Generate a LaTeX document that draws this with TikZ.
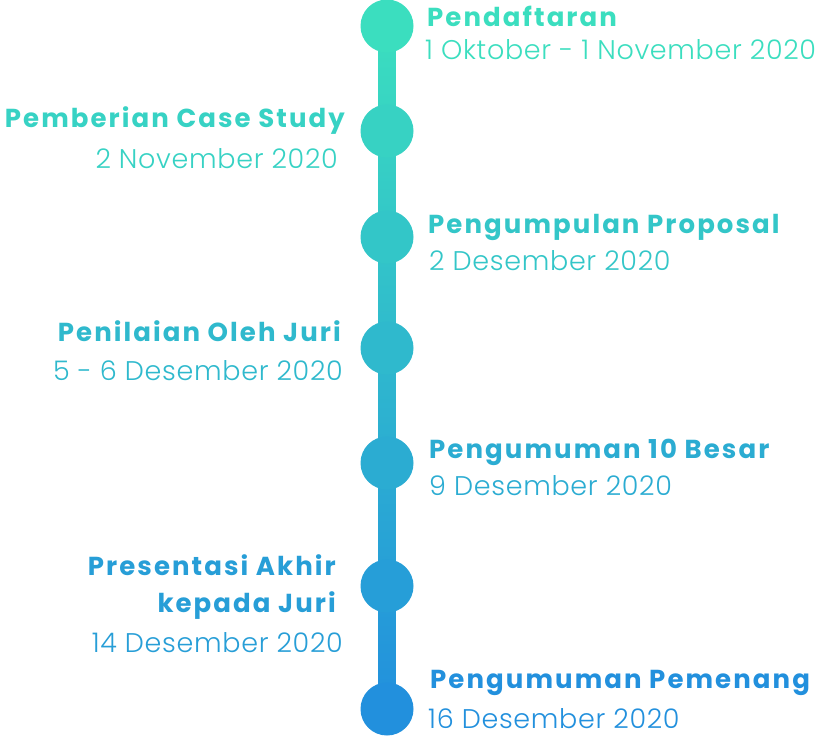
\documentclass[tikz,border=0pt]{standalone}
\usepackage{fontspec}
\setmainfont{Poppins}
\newfontfamily\titlefont{Poppins}[UprightFont={* Bold}, LetterSpace=8]
\newfontfamily\datefont{Poppins}[UprightFont={* Light}, LetterSpace=2.5]
\usetikzlibrary{calc, backgrounds}

\definecolor{topc}{RGB}{59,222,191}
\definecolor{botc}{RGB}{34,144,221}
\colorlet{colA}{botc!0!topc}
\colorlet{colB}{botc!15!topc}
\colorlet{colC}{botc!31!topc}
\colorlet{colD}{botc!47!topc}
\colorlet{colE}{botc!64!topc}
\colorlet{colF}{botc!82!topc}
\colorlet{colG}{botc!100!topc}

\begin{document}
\begin{tikzpicture}[x=1pt, y=-1pt,
    dot/.style={circle, minimum size=53pt, inner sep=0pt},
    title/.style={inner sep=0pt, font=\titlefont\fontsize{26}{37}\selectfont},
    when/.style={inner sep=0pt, font=\datefont\fontsize{27}{32}\selectfont}]

    \useasboundingbox (0,0) rectangle (819,736);

    % the dots on the time line
    \node [dot, fill=colA] (reg) at (387,26) {};
    \node [dot, fill=colB] (case) at (387,131) {};
    \node [dot, fill=colC] (prop) at (387,237) {};
    \node [dot, fill=colD] (jury) at (387,348) {};
    \node [dot, fill=colE] (ten) at (387,463) {};
    \node [dot, fill=colF] (pres) at (387,586) {};
    \node [dot, fill=colG] (win) at (387,709) {};

    \begin{pgfonlayer}{background}
        \fill [white] (0,0) rectangle (819,736);
        \shade [top color=colA, bottom color=colB] ($(reg.center)+(-8.5,0)$) rectangle ($(case.center)+(8.5,0)$);
        \shade [top color=colB, bottom color=colC] ($(case.center)+(-8.5,0)$) rectangle ($(prop.center)+(8.5,0)$);
        \shade [top color=colC, bottom color=colD] ($(prop.center)+(-8.5,0)$) rectangle ($(jury.center)+(8.5,0)$);
        \shade [top color=colD, bottom color=colE] ($(jury.center)+(-8.5,0)$) rectangle ($(ten.center)+(8.5,0)$);
        \shade [top color=colE, bottom color=colF] ($(ten.center)+(-8.5,0)$) rectangle ($(pres.center)+(8.5,0)$);
        \shade [top color=colF, bottom color=colG] ($(pres.center)+(-8.5,0)$) rectangle ($(win.center)+(8.5,0)$);
    \end{pgfonlayer}

    % right side
    \node [title, text=colA, anchor=base west] (regT) at (427,27) {Pendaftaran};
    \node [when, text=colA, anchor=base west] (regD) at (425,59) {1 Oktober - 1 November 2020};

    \node [title, text=colC, anchor=base west] (propT) at (428,233) {Pengumpulan Proposal};
    \node [when, text=colC, anchor=base west] (propD) at (429,270) {2 Desember 2020};

    \node [title, text=colE, anchor=base west] (tenT) at (429,458) {Pengumuman 10 Besar};
    \node [when, text=colE, anchor=base west] (tenD) at (429,495) {9 Desember 2020};

    \node [title, text=colG, anchor=base west] (winT) at (430,688) {Pengumuman Pemenang};
    \node [when, text=colG, anchor=base west] (winD) at (428,728) {16 Desember 2020};

    % left side
    \node [title, text=colB, anchor=base east] (caseT) at (345,127) {Pemberian Case Study};
    \node [when, text=colB, anchor=base east] (caseD) at (338,168) {2 November 2020};

    \node [title, text=colD, anchor=base east] (juryT) at (341,341) {Penilaian Oleh Juri};
    \node [when, text=colD, anchor=base east] (juryD) at (343,380) {5 - 6 Desember 2020};

    \node [title, text=colF, anchor=base east, align=right] (presT) at (336,612) {Presentasi Akhir\\kepada Juri};
    \node [when, text=colF, anchor=base east] (presD) at (343,652) {14 Desember 2020};

\end{tikzpicture}
\end{document}
